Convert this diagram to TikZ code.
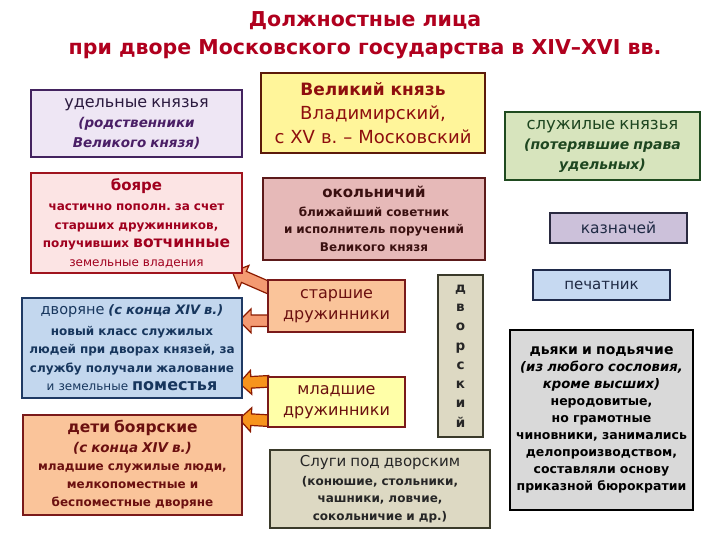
\documentclass[tikz,border=0pt]{standalone}
\usepackage{fontspec}
\setmainfont{DejaVu Sans}
\usepackage{tikz}
\usetikzlibrary{arrows.meta,positioning,shapes.arrows,calc,backgrounds}
\definecolor{titlered}{HTML}{B0001E}
\definecolor{udfill}{HTML}{EEE6F4}
\definecolor{udline}{HTML}{43235F}
\definecolor{udhead}{HTML}{2B1A3F}
\definecolor{udital}{HTML}{4A1F66}
\definecolor{boyfill}{HTML}{FCE4E4}
\definecolor{boyline}{HTML}{A0141E}
\definecolor{boytext}{HTML}{A0001E}
\definecolor{dvfill}{HTML}{C3D7EE}
\definecolor{dvline}{HTML}{1F3A64}
\definecolor{dvtext}{HTML}{17365D}
\definecolor{peach}{HTML}{FAC49A}
\definecolor{detline}{HTML}{7A1A1A}
\definecolor{dettext}{HTML}{6B1010}
\definecolor{vkfill}{HTML}{FFF59A}
\definecolor{vkline}{HTML}{5C1A0A}
\definecolor{vktext}{HTML}{8E0E0E}
\definecolor{okfill}{HTML}{E6B9B8}
\definecolor{okline}{HTML}{5C1A1A}
\definecolor{oktext}{HTML}{3A1010}
\definecolor{mladfill}{HTML}{FFFFA8}
\definecolor{beige}{HTML}{DDD9C3}
\definecolor{beigeline}{HTML}{3A3A2A}
\definecolor{sluzhfill}{HTML}{D7E4BD}
\definecolor{sluzhline}{HTML}{1F4A1F}
\definecolor{sluzhtext}{HTML}{1E4620}
\definecolor{kazfill}{HTML}{CCC1DA}
\definecolor{kazline}{HTML}{2A2A40}
\definecolor{pechfill}{HTML}{C6D9F1}
\definecolor{pechline}{HTML}{1F2A4A}
\definecolor{darktext}{HTML}{1F2A44}
\definecolor{dyafill}{HTML}{D9D9D9}
\definecolor{arrline}{HTML}{8B1A00}
\definecolor{arrsalmon}{HTML}{F49A72}
\definecolor{arrorange}{HTML}{F7941D}
\newcommand{\fsz}[2]{\fontsize{#1}{#2}\selectfont}
\frenchspacing

\begin{document}
\begin{tikzpicture}[x=1pt, y=-1pt,
  box/.style={draw, line width=1.6pt, align=center, inner sep=0pt, font=\fsz{12}{17.5}},
  sz/.style 2 args={minimum width=#1, minimum height=#2, text width=#1},
  fatarrow/.style={single arrow, draw=arrline, line width=1.2pt, inner sep=5pt,
    single arrow head extend=6pt, sloped, allow upside down},
]
  \useasboundingbox (0,0) rectangle (720,540);

  % Title
  \node[font=\fsz{20.5}{28}\bfseries, text=titlered, align=center] (title) at (365,35)
    {Должностные лица\\при дворе Московского государства в XIV–XVI вв.};

  % Left column
  \node[box, fill=udfill, draw=udline, sz={211}{67}] (ud) at (136.5,123.5)
    {{\color{udhead}\fsz{16}{19}удельные князья}\\[3pt]
     {\color{udital}\fsz{13.5}{19}\bfseries\itshape (родственники}\\[2pt]
     {\color{udital}\fsz{13.5}{19}\bfseries\itshape Великого князя)}};
  \node[box, fill=boyfill, draw=boyline, text=boytext, sz={211}{100}, font=\fsz{12}{18.5}] (boyare) at (136.5,223)
    {{\fsz{15}{18.5}\bfseries бояре}\\[2pt]
     \bfseries частично пополн. за счет\\старших дружинников,\\
     получивших {\fsz{15.5}{18.5}вотчинные}\\
     \mdseries земельные владения};
  \node[box, fill=dvfill, draw=dvline, text=dvtext, sz={220}{100}, font=\fsz{12}{18.5}] (dvor) at (132,348)
    {{\fsz{14.5}{18.5}дворяне \fsz{13}{18.5}\bfseries\itshape(с конца XIV в.)}\\[2pt]
     \bfseries новый класс служилых\\людей при дворах князей, за\\службу получали жалование\\
     {\mdseries и земельные} {\fsz{16}{18.5}поместья}};
  \node[box, fill=peach, draw=detline, text=dettext, sz={219}{100}, font=\fsz{12}{18}] (deti) at (132.5,465)
    {{\fsz{15.5}{19}\bfseries дети боярские}\\[2pt]
     {\fsz{13.5}{18}\bfseries\itshape (с конца XIV в.)}\\
     \bfseries младшие служилые люди,\\мелкопоместные и\\беспоместные дворяне};

  % Middle column
  \node[box, fill=vkfill, draw=vkline, text=vktext, sz={224}{80}, font=\fsz{18}{24}] (vk) at (373,113)
    {{\fsz{17}{24}\bfseries Великий князь}\\Владимирский,\\с XV в. – Московский};
  \node[box, fill=okfill, draw=okline, text=oktext, sz={222}{82}] (okol) at (374,219)
    {{\fsz{15}{20}\bfseries окольничий}\\[1pt]
     \bfseries ближайший советник\\и исполнитель поручений\\Великого князя};
  \node[box, fill=peach, draw=detline, text=dettext, sz={137}{52}, font=\fsz{16}{21}] (star) at (336.5,306)
    {старшие\\дружинники};
  \node[box, fill=mladfill, draw=detline, text=dettext, sz={137}{50}, font=\fsz{16}{21}] (mlad) at (336.5,402)
    {младшие\\дружинники};
  \node[box, fill=beige, draw=beigeline, text=black!85, sz={45}{162}, font=\fsz{13.5}{19.3}\bfseries] (dvorsk) at (460.5,356)
    {д\\в\\о\\р\\с\\к\\и\\й};
  \node[box, fill=beige, draw=beigeline, text=black!85, sz={220}{78}] (slugi) at (380,489)
    {{\fsz{15}{18}Слуги под дворским}\\[1pt]
     \bfseries (конюшие, стольники,\\чашники, ловчие,\\сокольничие и др.)};

  % Right column
  \node[box, fill=sluzhfill, draw=sluzhline, text=sluzhtext, sz={195}{68}] (sluzh) at (602.5,146)
    {{\fsz{16.5}{19}служилые князья}\\[3pt]
     {\fsz{14}{19}\bfseries\itshape (потерявшие права}\\[2pt]
     {\fsz{14}{19}\bfseries\itshape удельных)}};
  \node[box, fill=kazfill, draw=kazline, text=darktext, sz={137}{30}, font=\fsz{15.5}{18}] (kazn) at (618.5,228)
    {казначей};
  \node[box, fill=pechfill, draw=pechline, text=darktext, sz={137}{30}, font=\fsz{15}{18}] (pech) at (601.5,285)
    {печатник};
  \node[box, fill=dyafill, draw=black, text=black, sz={183}{180}, font=\fsz{12.5}{17}] (dyaki) at (601.5,420)
    {{\fsz{14}{17}\bfseries дьяки и подьячие}\\
     {\fsz{13.2}{17}\bfseries\itshape (из любого сословия,\\кроме высших)}\\
     \bfseries неродовитые,\\но грамотные\\чиновники, занимались\\делопроизводством,\\
     составляли основу\\приказной бюрократии};

  % Arrows
  \begin{pgfonlayer}{background}
    \path ($(star.north west)+(5,10)$) -- node[fatarrow, fill=arrsalmon, minimum height=42pt, minimum width=25pt] (a1) {} ($(boyare.south east)+(-6,0)$);
    \path ($(star.south west)+(4,-12)$) -- node[fatarrow, fill=arrsalmon, minimum height=30pt, minimum width=24pt] (a2) {} ($(dvor.south east)+(0,-78)$);
    \path ($(mlad.north west)+(4,5)$) -- node[fatarrow, fill=arrorange, minimum height=30pt, minimum width=24pt] (a3) {} ($(dvor.south east)+(0,-16)$);
    \path ($(mlad.south west)+(4,-7)$) -- node[fatarrow, fill=arrorange, minimum height=30pt, minimum width=24pt] (a4) {} ($(deti.north east)+(0,5)$);
  \end{pgfonlayer}
\end{tikzpicture}
\end{document}
